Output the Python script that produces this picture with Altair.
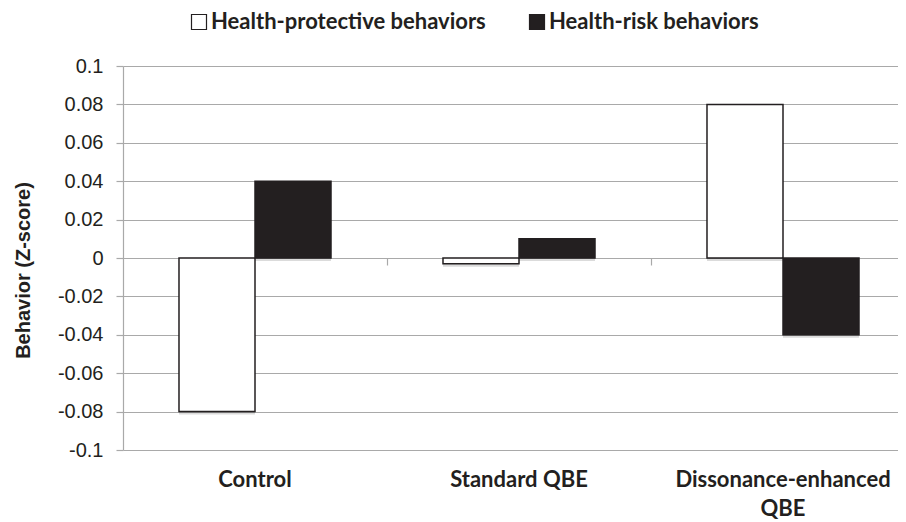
import altair as alt
import pandas as pd

categories = ["Control", "Standard QBE", "Dissonance-enhanced QBE"]
series = ["Health-protective behaviors", "Health-risk behaviors"]
protective = [-0.08, -0.003, 0.08]
risk = [0.04, 0.01, -0.04]
y_ticks = [0.1, 0.08, 0.06, 0.04, 0.02, 0, -0.02, -0.04, -0.06, -0.08, -0.1]
fill_colors = ["#ffffff", "#231f20"]

rows = []
for c, p, r in zip(categories, protective, risk):
    rows.append({"group": c, "series": series[0], "value": p})
    rows.append({"group": c, "series": series[1], "value": r})
df = pd.DataFrame(rows)

TXT = "#231f20"
GRID = "#a9a9a9"

x_scale = alt.Scale(domain=categories, range=[0, 792], paddingInner=0.4242, paddingOuter=0.2121)
y_scale = alt.Scale(domain=[-0.1, 0.1], nice=False)
x_off = alt.XOffset("series:N", sort=series, scale=alt.Scale(paddingInner=0, paddingOuter=0))

shadow = alt.Chart(df).mark_bar(color="#000000", opacity=0.14, xOffset=2, yOffset=3).encode(
    x=alt.X("group:N", scale=x_scale, sort=categories, axis=None),
    xOffset=x_off,
    y=alt.Y("value:Q", scale=y_scale),
)

bars = alt.Chart(df).mark_bar(stroke=TXT, strokeWidth=1.5).encode(
    x=alt.X(
        "group:N", scale=x_scale, sort=categories,
        axis=alt.Axis(
            orient="bottom", title=None, labelAngle=0, domain=False, ticks=False, grid=False,
            labelFont="Lato", labelFontWeight="bold", labelFontSize=22, labelColor=TXT,
            labelPadding=19, labelLineHeight=29, labelBaseline="top", labelLimit=400,
            labelExpr="datum.label == 'Dissonance-enhanced QBE' ? ['Dissonance-enhanced', 'QBE'] : datum.label",
        ),
    ),
    xOffset=x_off,
    y=alt.Y(
        "value:Q", scale=y_scale,
        axis=alt.Axis(
            values=y_ticks, tickCount=30, grid=True, gridColor=GRID, gridWidth=1.2,
            domain=True, domainColor=GRID, domainWidth=1.2,
            ticks=True, tickColor=GRID, tickSize=7, tickWidth=1.2,
            labelFont="Liberation Sans", labelFontSize=20, labelColor=TXT, labelPadding=13,
            labelOverlap=False,
            labelExpr="replace(format(datum.value, '.2~f'), '\u2212', '-')",
            title="Behavior (Z-score)", titleFont="Liberation Sans", titleFontWeight="bold",
            titleFontSize=20, titleColor=TXT, titleAngle=270, titleX=-100, titleY=204,
            titleAlign="center", titleBaseline="middle",
        ),
    ),
    fill=alt.Fill(
        "series:N", scale=alt.Scale(domain=series, range=fill_colors),
        legend=alt.Legend(
            title=None, orient="none", direction="horizontal", legendX=65, legendY=-55,
            symbolType="square", symbolSize=225, symbolStrokeColor=TXT, symbolStrokeWidth=1.2,
            labelFont="Lato", labelFontWeight="bold", labelFontSize=22, labelColor=TXT,
            labelOffset=1, columnPadding=40, labelLimit=400,
        ),
    ),
)

zero_axis = alt.Chart(df).mark_point(opacity=0).encode(
    x=alt.X(
        "group:N", scale=x_scale, sort=categories,
        axis=alt.Axis(
            orient="bottom", offset=-192, labels=False, title=None, domain=False,
            ticks=True, tickSize=7, tickColor=GRID, tickWidth=1.2, tickOffset=132,
            grid=False, values=categories[:2],
        ),
    ),
    y=alt.Y("value:Q", scale=y_scale),
)

chart = alt.layer(shadow, bars, zero_axis).resolve_axis(x="independent").properties(
    width=775, height=384,
    autosize=alt.AutoSizeParams(type="none"),
    padding={"left": 115, "top": 58, "right": 0, "bottom": 72},
    background="white",
).configure_view(stroke=None)

chart.save("out.html", embed_options={"renderer": "svg", "actions": False})
